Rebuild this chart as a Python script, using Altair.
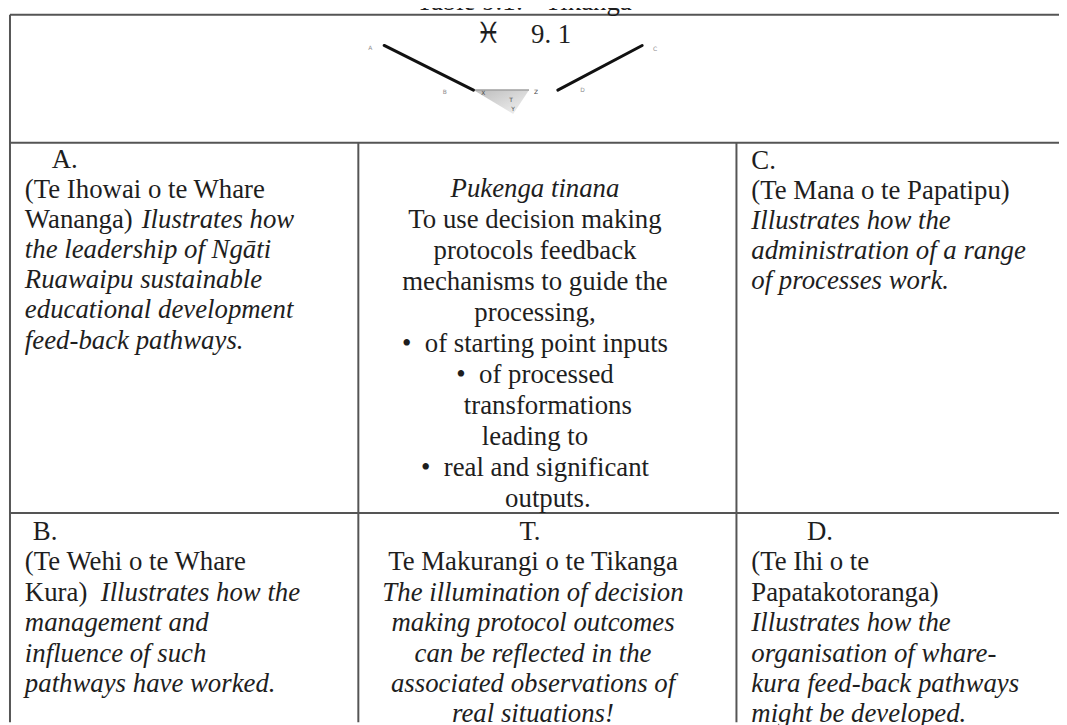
import altair as alt
import pandas as pd

# ---------------- content ----------------
title_text = "Table 9.1: - Tikanga"
figure_symbol = "\u2653"
figure_number = "9. 1"
diagram_labels = ["A", "B", "X", "Z", "D", "C", "T", "Y"]

# '*' toggles italic; a leading '>' marks a wrapped continuation line of a bullet
cell_A = ["A.", "(Te Ihowai o te Whare", "Wananga) *Ilustrates how*",
          "*the leadership of Ngāti*", "*Ruawaipu sustainable*",
          "*educational development*", "*feed-back pathways.*"]
cell_M = ["*Pukenga tinana*", "To use decision making", "protocols feedback",
          "mechanisms to guide the", "processing,",
          "\u2022\u2002of starting point inputs", "\u2022\u2002of processed",
          ">transformations", "leading to", "\u2022\u2002real and significant",
          ">outputs."]
cell_C = ["C.", "(Te Mana o te Papatipu)", "*Illustrates how the*",
          "*administration of a range*", "*of processes work.*"]
cell_B = ["B.", "(Te Wehi o te Whare", "Kura)  *Illustrates how the*",
          "*management and*", "*influence of such*", "*pathways have worked.*"]
cell_T = ["T.", "Te Makurangi o te Tikanga", "*The illumination of decision*",
          "*making protocol outcomes*", "*can be reflected in the*",
          "*associated observations of*", "*real situations!*"]
cell_D = ["D.", "(Te Ihi o te", "Papatakotoranga)", "*Illustrates how the*",
          "*organisation of whare-*", "*kura feed-back pathways*",
          "*might be developed.*"]

# ---------------- layout (page pixel coordinates) ----------------
W, H = 1059, 717
OX, OY = 8, 8
FONT = "Liberation Serif"
FS = 27
INK = "#1e1e1e"
GRID = "#555555"

cells = [
    dict(lines=cell_A, x=25, align="left", y0=158, lh=30.4, label=27),
    dict(lines=cell_M, x=539, align="center", y0=188, lh=31.2, hang=13),
    dict(lines=cell_C, x=757, align="left", y0=160, lh=30.0, label=0),
    dict(lines=cell_B, x=25, align="left", y0=533, lh=30.7, label=8),
    dict(lines=cell_T, x=537, align="center", y0=533, lh=30.7, label=-3),
    dict(lines=cell_D, x=757, align="left", y0=533, lh=30.7, label=56),
]

grid_x = [10, 1067]
grid_rows = [12, 141, 514]
grid_cols = [361, 742]
grid_top, grid_bottom = 12, 725

diag_segments = [[(387, 43), (477, 88)], [(562, 88), (647, 43)]]
tri_x = [477, 517, 533]
tri_top = [88, 88, 88]
tri_bottom = [88, 112, 88]
label_pos = [(373, 46), (448, 90), (487, 91), (540, 90), (587, 88), (660, 47),
             (515, 98), (517, 107)]
label_dark = [False, False, True, True, False, False, True, True]

# Times metrics (per 1000 em) for offsetting mixed-style segments
_w = {}
for c, v in zip("abcdefghijklmnopqrstuvwxyz",
                [444, 500, 444, 500, 444, 333, 500, 500, 278, 278, 500, 278, 778,
                 500, 500, 500, 500, 333, 389, 278, 500, 500, 722, 500, 500, 444]):
    _w[c] = v
for c, v in zip("ABCDEFGHIJKLMNOPQRSTUVWXYZ",
                [722, 667, 667, 722, 611, 556, 722, 722, 333, 389, 722, 611, 889,
                 722, 722, 556, 722, 667, 556, 611, 722, 722, 944, 722, 722, 611]):
    _w[c] = v
_w.update({" ": 250, "(": 333, ")": 333, ".": 250, ",": 250, "-": 333, ":": 278,
           "!": 333})


def text_width(s):
    return sum(_w.get(c, 500) for c in s) * FS / 1000.0


records = []
for cell in cells:
    for i, raw in enumerate(cell["lines"]):
        y = cell["y0"] + i * cell["lh"]
        x = cell["x"]
        if raw.startswith(">"):
            raw = raw[1:]
            x += cell.get("hang", 0)
        if i == 0 and "label" in cell:
            x += cell["label"]
        segs = raw.split("*")
        for k, seg in enumerate(segs):
            if seg.strip():
                records.append(dict(x=x, y=y, text=seg.strip(),
                                    style="italic" if k % 2 else "normal",
                                    align=cell["align"]))
            x += text_width(seg)
text_df = pd.DataFrame(records)

xs = alt.Scale(domain=[OX, OX + W], range=[0, W], nice=False, zero=False)
ys = alt.Scale(domain=[OY, OY + H], range=[0, H], nice=False, zero=False)


def X(f="x"):
    return alt.X(f"{f}:Q", scale=xs, axis=None)


def Y(f="y"):
    return alt.Y(f"{f}:Q", scale=ys, axis=None)


layers = []

# grid rules
rules = []
for r in grid_rows:
    rules.append(dict(x=grid_x[0], x2=grid_x[1], y=r, y2=r))
rules.append(dict(x=grid_x[0], x2=grid_x[0], y=grid_top, y2=grid_bottom))
for c in grid_cols:
    rules.append(dict(x=c, x2=c, y=grid_rows[1], y2=grid_bottom))
layers.append(
    alt.Chart(pd.DataFrame(rules)).mark_rule(color=GRID, strokeWidth=2).encode(
        x=X(), x2="x2:Q", y=Y(), y2="y2:Q"))

# shaded triangle
tri_df = pd.DataFrame(dict(x=tri_x, y=tri_top, y2=tri_bottom))
layers.append(
    alt.Chart(tri_df).mark_area(
        color=alt.Gradient(gradient="linear",
                           stops=[alt.GradientStop(color="#bcbcbc", offset=0),
                                  alt.GradientStop(color="#f3f3f3", offset=1)],
                           x1=0, x2=1, y1=0, y2=1),
        interpolate="linear").encode(x=X(), y=Y(), y2="y2:Q"))
layers.append(
    alt.Chart(pd.DataFrame(dict(x=[tri_x[0]], x2=[tri_x[-1]], y=[tri_top[0]])))
    .mark_rule(color="#a0a0a0", strokeWidth=1.5)
    .encode(x=X(), x2="x2:Q", y=Y()))

# diagonal strokes
seg_rows = []
for sid, seg in enumerate(diag_segments):
    for o, (px, py) in enumerate(seg):
        seg_rows.append(dict(seg=sid, ord=o, x=px, y=py))
layers.append(
    alt.Chart(pd.DataFrame(seg_rows)).mark_line(color="#111111", strokeWidth=3,
                                               strokeCap="round").encode(
        x=X(), y=Y(), detail="seg:N", order="ord:Q"))

# tiny diagram labels
lab_df = pd.DataFrame(dict(text=diagram_labels, x=[p[0] for p in label_pos],
                           y=[p[1] for p in label_pos], dark=label_dark))
for dark, col in [(False, "#8f8f8f"), (True, "#484848")]:
    layers.append(
        alt.Chart(lab_df[lab_df["dark"] == dark]).mark_text(
            font="DejaVu Sans", fontSize=6, baseline="middle", align="center",
            color=col).encode(x=X(), y=Y(), text="text:N"))

# figure caption in header cell
layers.append(
    alt.Chart(pd.DataFrame(dict(x=[492], y=[41], text=[figure_symbol])))
    .mark_text(font="DejaVu Sans", fontSize=29, align="center",
               baseline="alphabetic", color=INK)
    .encode(x=X(), y=Y(), text="text:N"))
layers.append(
    alt.Chart(pd.DataFrame(dict(x=[535], y=[41], text=[figure_number])))
    .mark_text(font=FONT, fontSize=FS, align="left", baseline="alphabetic",
               color=INK)
    .encode(x=X(), y=Y(), text="text:N"))

# cut-off table title at the very top
layers.append(
    alt.Chart(pd.DataFrame(dict(x=[528], y=[7], text=[title_text])))
    .mark_text(font=FONT, fontSize=FS, align="center", baseline="alphabetic",
               color=INK)
    .encode(x=X(), y=Y(), text="text:N"))

# cell texts
for style in ["normal", "italic"]:
    for align in ["left", "center"]:
        sub = text_df[(text_df["style"] == style) & (text_df["align"] == align)]
        if len(sub) == 0:
            continue
        layers.append(
            alt.Chart(sub).mark_text(font=FONT, fontSize=FS, fontStyle=style,
                                     align=align, baseline="middle", color=INK)
            .encode(x=X(), y=Y(), text="text:N"))

chart = alt.layer(*layers).properties(
    width=W, height=H, padding=0,
    autosize=alt.AutoSizeParams(type="none"),
    background="white",
).configure_view(stroke=None)

chart.save("out.html", embed_options={"renderer": "svg", "actions": False})
